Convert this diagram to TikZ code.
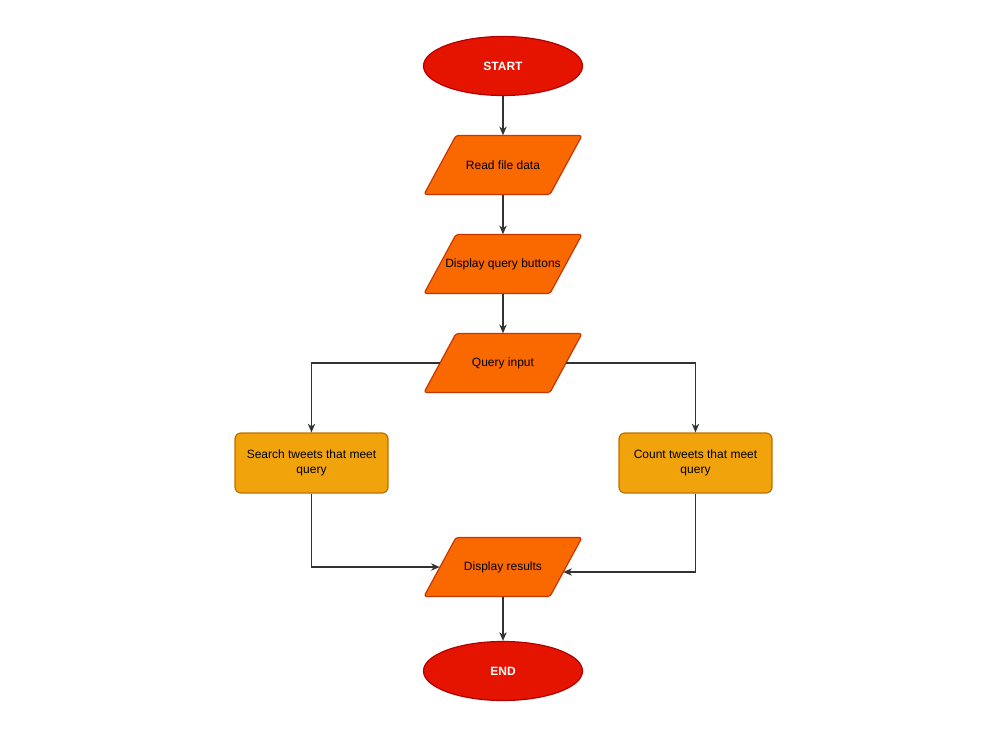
\documentclass[tikz,border=0pt]{standalone}
\usepackage{fontspec}
\setmainfont{Liberation Sans}
\usetikzlibrary{arrows.meta,shapes.geometric}
\definecolor{redfill}{HTML}{E51400}
\definecolor{redline}{HTML}{B20000}
\definecolor{orfill}{HTML}{FA6800}
\definecolor{orline}{HTML}{C73500}
\definecolor{ambfill}{HTML}{F0A30A}
\definecolor{ambline}{HTML}{BD7000}
\newcommand\paranode[4]{%
  \draw[parashape] (#2-79,#3+29.5) -- (#2+47,#3+29.5) -- (#2+79,#3-29.5) -- (#2-47,#3-29.5) -- cycle;
  \node[paratext] (#1) at (#2,#3) {#4};
}
\begin{document}
\begin{tikzpicture}[x=0.75pt,y=-0.75pt,
  terminal/.style={ellipse, draw=redline, fill=redfill, line width=0.9pt, minimum width=119.25pt, minimum height=44.25pt, inner sep=0pt, text=white, font=\fontsize{9}{11}\selectfont\bfseries},
  paratext/.style={inner sep=0pt, minimum width=94.5pt, minimum height=44.25pt, font=\fontsize{9}{11}\selectfont},
  parashape/.style={draw=orline, fill=orfill, line width=0.9pt, rounded corners=2pt, line join=round},
  process/.style={rectangle, rounded corners=4.5pt, draw=ambline, fill=ambfill, line width=0.9pt, minimum width=114.75pt, minimum height=45pt, align=center, inner sep=0pt, font=\fontsize{9}{11}\selectfont},
  flow/.style={draw=black!80, line width=0.8pt, -{Stealth[length=6.5pt,width=5.5pt,inset=2pt]}}
]
\useasboundingbox (0,0) rectangle (1000,752);
\node[terminal] (start) at (503,66) {START};
\paranode{read}{503}{165}{Read file data}
\paranode{disp}{503}{264}{Display query buttons}
\paranode{qin}{503}{363}{Query input}
\node[process] (search) at (311.5,463) {Search tweets that meet\\query};
\node[process] (count) at (695.5,463) {Count tweets that meet\\query};
\paranode{res}{503}{567}{Display results}
\node[terminal] (end) at (503,671) {END};

\draw[flow] (start) -- (read);
\draw[flow] (read) -- (disp);
\draw[flow] (disp) -- (qin);
\draw[flow] (qin.west) -| (search.north);
\draw[flow] (qin.east) -| (count.north);
\draw[flow] (search.south) |- (res.west);
\draw[flow] (count.south) |- ([shift={(-3,5)}]res.east);
\draw[flow] (res) -- (end);
\end{tikzpicture}
\end{document}
